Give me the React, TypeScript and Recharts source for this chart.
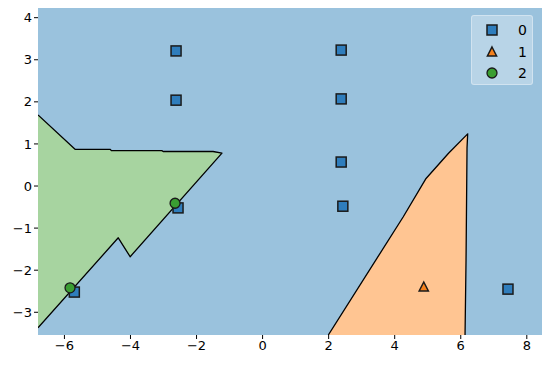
import React from 'react';
import { ComposedChart, Scatter, XAxis, YAxis, ReferenceArea } from 'recharts';

const xTicks = [-6, -4, -2, 0, 2, 4, 6, 8];
const yTicks = [-3, -2, -1, 0, 1, 2, 3, 4];
const xDomain: [number, number] = [-6.8, 8.46];
const yDomain: [number, number] = [-3.54, 4.23];

const class0X = [-2.62, -2.62, 2.38, 2.38, 2.38, 2.43, -2.56, -5.7, 7.43];
const class0Y = [3.21, 2.04, 3.23, 2.07, 0.57, -0.48, -0.52, -2.52, -2.45];
const class1X = [4.88];
const class1Y = [-2.4];
const class2X = [-2.65, -5.83];
const class2Y = [-0.41, -2.42];

// decision boundary of class 2 region (closed along the left edge)
const greenBX = [-6.8, -5.67, -4.61, -4.58, -3.05, -3.01, -1.5, -1.23, -4.01, -4.37, -6.8];
const greenBY = [1.69, 0.87, 0.87, 0.84, 0.84, 0.82, 0.82, 0.78, -1.68, -1.23, -3.37];
// decision boundary of class 1 region (closed along the bottom edge)
const orangeBX = [1.99, 4.26, 4.95, 5.63, 6.21, 6.19, 6.16, 6.13];
const orangeBY = [-3.54, -0.73, 0.18, 0.78, 1.24, 0.9, -1.76, -3.54];

const labels = ['0', '1', '2'];
const colors = ['#2f7dbc', '#f4801c', '#3a9e32'];
const regionColors = ['#9ac2dd', '#ffc592', '#a7d4a0'];
const edge = '#1a1a1a';

const zip = (xs: number[], ys: number[]) => xs.map((x, i) => ({ x, y: ys[i] }));

const class0 = zip(class0X, class0Y);
const class1 = zip(class1X, class1Y);
const class2 = zip(class2X, class2Y);
const greenB = zip(greenBX, greenBY);
const orangeB = zip(orangeBX, orangeBY);

const fmt = (v: number) => String(v).replace('-', '\u2212');

const regionLine = (fill: string) => (props: any) => {
  const pts: { x: number; y: number }[] = props.points || [];
  if (!pts.length) return null;
  const d = pts.map((p, i) => `${i ? 'L' : 'M'}${p.x},${p.y}`).join(' ');
  return (
    <g>
      <path d={d + ' Z'} fill={fill} stroke="none" />
      <path d={d} fill="none" stroke="#000" strokeWidth={1.3} strokeLinejoin="round" />
    </g>
  );
};

const Square = (p: any) => (
  <rect x={p.cx - 5} y={p.cy - 5} width={10} height={10} fill={colors[0]} stroke={edge} strokeWidth={1.5} />
);
const Triangle = (p: any) => (
  <path d={`M${p.cx},${p.cy - 5} L${p.cx + 4.6},${p.cy + 4} L${p.cx - 4.6},${p.cy + 4} Z`} fill={colors[1]} stroke={edge} strokeWidth={1.5} strokeLinejoin="miter" />
);
const Circle = (p: any) => <circle cx={p.cx} cy={p.cy} r={5} fill={colors[2]} stroke={edge} strokeWidth={1.3} />;
const Nothing = () => null;

const LegendBox = () => (
  <div
    style={{
      position: 'absolute',
      left: 471,
      top: 15,
      width: 62,
      height: 70,
      background: 'rgba(255,255,255,0.3)',
      border: '1px solid rgba(255,255,255,0.35)',
      borderRadius: 3,
      boxSizing: 'border-box',
    }}
  >
    <svg width={62} height={70} style={{ display: 'block' }}>
      <rect x={15} y={9} width={10} height={10} fill={colors[0]} stroke={edge} strokeWidth={1.5} />
      <path d="M20,31 L24.6,40 L15.4,40 Z" fill={colors[1]} stroke={edge} strokeWidth={1.5} />
      <circle cx={20} cy={57} r={5} fill={colors[2]} stroke={edge} strokeWidth={1.3} />
      {labels.map((l, i) => (
        <text key={l} x={46} y={19 + i * 21.5} fontSize={14} fontFamily="DejaVu Sans" fill="#000">
          {l}
        </text>
      ))}
    </svg>
  </div>
);

export default function App() {
  return (
    <div style={{ position: 'absolute', left: 0, top: 0, width: 550, height: 366, background: '#fff' }}>
      <ComposedChart width={550} height={366} margin={{ top: 8, right: 8, left: 0, bottom: 0 }}>
        <XAxis
          type="number"
          dataKey="x"
          domain={xDomain}
          ticks={xTicks}
          allowDataOverflow
          axisLine={false}
          tickLine={{ stroke: '#000' }}
          tickSize={4}
          height={31}
          tickFormatter={fmt}
          tick={{ fill: '#000', fontSize: 13, fontFamily: 'DejaVu Sans' }}
        />
        <YAxis
          type="number"
          dataKey="y"
          domain={yDomain}
          ticks={yTicks}
          allowDataOverflow
          axisLine={false}
          tickLine={{ stroke: '#000' }}
          tickSize={4}
          width={38}
          tickFormatter={fmt}
          tick={{ fill: '#000', fontSize: 13, fontFamily: 'DejaVu Sans' }}
        />
        <ReferenceArea x1={xDomain[0]} x2={xDomain[1]} y1={yDomain[0]} y2={yDomain[1]} fill={regionColors[0]} fillOpacity={1} stroke="none" />
        <Scatter data={greenB} shape={Nothing} line={regionLine(regionColors[2])} isAnimationActive={false} />
        <Scatter data={orangeB} shape={Nothing} line={regionLine(regionColors[1])} isAnimationActive={false} />
        <Scatter data={class0} shape={Square} isAnimationActive={false} />
        <Scatter data={class1} shape={Triangle} isAnimationActive={false} />
        <Scatter data={class2} shape={Circle} isAnimationActive={false} />
      </ComposedChart>
      <LegendBox />
    </div>
  );
}
